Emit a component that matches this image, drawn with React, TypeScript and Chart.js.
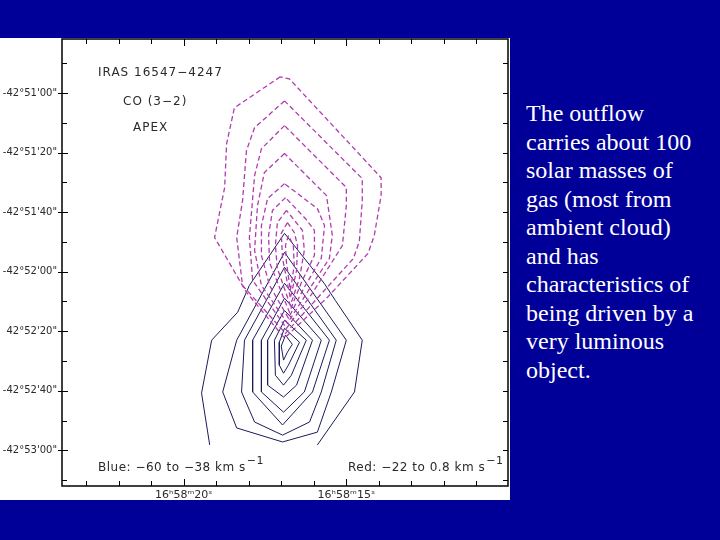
import React, { useEffect, useRef } from "react";
import { Chart, registerables } from "chart.js";

Chart.register(...registerables);

// x: right ascension seconds (16h58m..s), y: declination offset in arcsec from -42°52'20"
const RA_TICKS = [11, 12, 13, 14, 15, 16, 17, 18, 19, 20, 21, 22, 23];
const RA_LABEL_VALUES = [20, 15];
const RA_LABEL_TEXT = ["16ʰ58ᵐ20ˢ", "16ʰ58ᵐ15ˢ"];
const DEC_TICKS = [-50, -40, -30, -20, -10, 0, 10, 20, 30, 40, 50, 60, 70, 80, 90];
const DEC_LABEL_VALUES = [80, 60, 40, 20, 0, -20, -40];
const DEC_LABEL_TEXT = [`-42°51'00"`, `-42°51'20"`, `-42°51'40"`, `-42°52'00"`, `42°52'20"`, `-42°52'40"`, `-42°53'00"`];

const TITLE_LINES = ["IRAS 16547\u22124247", "CO (3\u22122)", "APEX"];
const BLUE_RANGE = "Blue: \u221260 to \u221238 km s";
const RED_RANGE = "Red: \u221222 to 0.8 km s";
const NOTE_LINES = [
  "The outflow",
  "carries about 100",
  "solar masses of",
  "gas (most from",
  "ambient cloud)",
  "and has",
  "characteristics of",
  "being driven by a",
  "very luminous",
  "object.",
];

// Red-shifted lobe contours (dashed magenta), [RA s, dDec arcsec]
const RED_1 = [[17.03, 85.5], [18.44, 75.1], [18.68, 63.0], [18.74, 48.3], [19.05, 31.5], [18.07, 13.1], [16.90, -2.3], [15.58, 11.4], [14.33, 26.2], [14.14, 32.2], [13.93, 45.6], [13.93, 51.6], [16.75, 84.8], [17.03, 85.5]];
const RED_2 = [[16.90, 77.4], [17.82, 68.4], [18.07, 60.7], [18.19, 43.9], [18.37, 31.5], [18.19, 15.4], [16.87, -0.7], [15.89, 11.1], [14.78, 24.5], [14.60, 30.2], [14.51, 43.9], [14.51, 51.3], [16.90, 77.4]];
const RED_3 = [[16.90, 69.1], [17.61, 61.3], [17.82, 52.3], [17.98, 31.5], [17.88, 17.1], [16.84, 1.0], [16.07, 12.4], [15.12, 28.8], [15.00, 42.2], [15.00, 48.3], [16.90, 69.1]];
const RED_4 = [[16.90, 59.7], [17.52, 53.3], [17.73, 42.2], [17.82, 27.2], [17.61, 15.4], [16.81, 2.7], [16.20, 13.1], [15.52, 24.5], [15.43, 32.2], [15.61, 45.6], [16.90, 59.7]];
const RED_5 = [[16.90, 49.6], [17.42, 44.6], [17.61, 35.5], [17.61, 25.5], [17.36, 15.4], [16.78, 4.4], [16.29, 14.8], [15.77, 24.5], [15.67, 35.5], [15.89, 41.2], [16.90, 49.6]];
const RED_6 = [[16.87, 44.9], [17.27, 40.6], [17.39, 32.2], [17.36, 23.1], [16.75, 6.4], [16.38, 16.4], [15.98, 25.5], [15.98, 33.9], [16.26, 37.9], [16.87, 44.9]];
const RED_7 = [[16.84, 40.6], [17.12, 36.5], [17.18, 28.8], [17.12, 21.1], [16.72, 8.7], [16.44, 17.8], [16.29, 27.2], [16.35, 33.9], [16.84, 40.6]];
const RED_8 = [[16.81, 36.5], [17.00, 32.9], [16.96, 24.5], [16.72, 11.1], [16.53, 20.4], [16.50, 28.8], [16.60, 33.2], [16.81, 36.5]];
const RED_9 = [[16.78, 32.2], [16.87, 28.8], [16.84, 23.1], [16.72, 13.7], [16.60, 22.1], [16.63, 28.8], [16.78, 32.2]];

// Blue-shifted lobe contours (solid navy)
const BLUE_1 = [[19.20, -38.2], [19.45, -20.8], [19.14, -3.0], [18.34, 6.4], [17.98, 15.4], [16.90, 32.9], [15.68, 16.1], [15.34, 10.4], [14.51, -3.0], [14.75, -20.4], [15.89, -38.2]];
const BLUE_2 = [[16.90, 26.5], [18.37, -3.0], [18.80, -20.4], [18.37, -32.5], [16.96, -37.2], [15.89, -33.9], [15.46, -20.4], [15.00, -3.0], [16.90, 26.5]];
const BLUE_3 = [[16.90, 21.5], [18.13, -3.0], [18.22, -20.4], [17.82, -30.5], [16.96, -34.9], [16.13, -30.5], [15.77, -20.4], [15.31, -3.0], [16.90, 21.5]];
const BLUE_4 = [[16.90, 16.1], [17.88, -3.0], [17.88, -20.4], [16.96, -31.5], [16.04, -20.4], [15.52, -3.0], [16.90, 16.1]];
const BLUE_5 = [[16.90, 11.1], [17.61, -3.0], [17.61, -20.4], [16.93, -27.2], [16.29, -20.4], [15.77, -3.0], [16.90, 11.1]];
const BLUE_6 = [[16.90, 7.0], [17.42, -3.0], [17.42, -18.1], [16.93, -22.1], [16.53, -18.1], [16.04, -3.0], [16.90, 7.0]];
const BLUE_7 = [[16.90, 3.7], [17.21, -3.0], [17.18, -14.8], [16.93, -18.1], [16.69, -14.8], [16.23, -3.0], [16.90, 3.7]];
const BLUE_8 = [[16.90, 1.0], [17.06, -3.7], [17.06, -11.4], [16.93, -14.1], [16.78, -11.4], [16.44, -3.7], [16.90, 1.0]];
const BLUE_9 = [[16.87, -1.3], [17.00, -5.0], [16.93, -9.7], [16.81, -7.0], [16.66, -4.4], [16.87, -1.3]];

const RED_CONTOURS = [RED_1, RED_2, RED_3, RED_4, RED_5, RED_6, RED_7, RED_8, RED_9];
const BLUE_CONTOURS = [BLUE_1, BLUE_2, BLUE_3, BLUE_4, BLUE_5, BLUE_6, BLUE_7, BLUE_8, BLUE_9];

const RED_COLOR = "#b03cb0";
const BLUE_COLOR = "#1a1a5c";
const TEXT_COLOR = "#2a2a2a";
const AXIS_FONT = "DejaVu Sans";

function contourDataset(points: number[][], color: string, dash: number[], width: number) {
  return {
    data: points.map(([x, y]) => ({ x, y })),
    showLine: true,
    borderColor: color,
    borderWidth: width,
    borderDash: dash,
    pointRadius: 0,
    pointHoverRadius: 0,
    fill: false,
    tension: 0,
  };
}

const framePlugin = {
  id: "frameAndText",
  afterDraw(chart: any) {
    const { ctx, chartArea: a, scales } = chart;
    const xs = scales.x;
    const ys = scales.y;
    ctx.save();
    ctx.strokeStyle = "#000";
    ctx.lineWidth = 1;
    ctx.beginPath();
    for (const v of RA_TICKS) {
      const px = Math.round(xs.getPixelForValue(v)) + 0.5;
      const len = RA_LABEL_VALUES.includes(v) ? 7 : 5;
      ctx.moveTo(px, a.top);
      ctx.lineTo(px, a.top + len);
      ctx.moveTo(px, a.bottom);
      ctx.lineTo(px, a.bottom - len);
    }
    for (const v of DEC_TICKS) {
      const py = Math.round(ys.getPixelForValue(v)) + 0.5;
      const major = DEC_LABEL_VALUES.includes(v);
      ctx.moveTo(a.left - (major ? 4 : 0), py);
      ctx.lineTo(a.left + (major ? 6 : 5), py);
      ctx.moveTo(a.right, py);
      ctx.lineTo(a.right - 5, py);
    }
    ctx.stroke();
    ctx.lineWidth = 1.5;
    ctx.strokeRect(a.left, a.top, a.right - a.left, a.bottom - a.top);

    // annotations
    ctx.fillStyle = TEXT_COLOR;
    ctx.textAlign = "left";
    ctx.textBaseline = "middle";
    ctx.font = `12px "${AXIS_FONT}"`;
    (ctx as any).letterSpacing = "1px";
    ctx.fillText(TITLE_LINES[0], a.left + 36, a.top + 34);
    ctx.fillText(TITLE_LINES[1], a.left + 61, a.top + 63);
    ctx.fillText(TITLE_LINES[2], a.left + 71, a.top + 89);
    (ctx as any).letterSpacing = "0.5px";
    const drawRange = (txt: string, x: number, y: number) => {
      ctx.font = `12px "${AXIS_FONT}"`;
      ctx.fillText(txt, x, y);
      const w = ctx.measureText(txt).width;
      ctx.font = `11px "${AXIS_FONT}"`;
      ctx.fillText("\u22121", x + w + 1, y - 7);
    };
    drawRange(BLUE_RANGE, a.left + 36, a.top + 429);
    drawRange(RED_RANGE, a.left + 286, a.top + 429);
    (ctx as any).letterSpacing = "0px";
    ctx.restore();
  },
};

function SkyChart() {
  const ref = useRef<HTMLCanvasElement | null>(null);
  useEffect(() => {
    if (!ref.current) return;
    const datasets = [
      ...RED_CONTOURS.map((c) => contourDataset(c, RED_COLOR, [5, 3], 1.3)),
      ...BLUE_CONTOURS.map((c) => contourDataset(c, BLUE_COLOR, [], 1)),
    ];
    const chart = new Chart(ref.current, {
      type: "scatter",
      data: { datasets },
      options: {
        animation: false,
        responsive: false,
        devicePixelRatio: 1,
        layout: { padding: { left: 0, right: 2, top: 1, bottom: 0 } },
        plugins: { legend: { display: false }, tooltip: { enabled: false } },
        events: [],
        scales: {
          x: {
            type: "linear",
            position: "bottom",
            reverse: true,
            min: 10.03,
            max: 23.74,
            grid: { display: false, drawTicks: false },
            border: { display: false },
            afterBuildTicks: (scale: any) => {
              scale.ticks = RA_TICKS.map((v) => ({ value: v }));
            },
            afterFit: (scale: any) => {
              scale.height = 14;
              scale.paddingLeft = 0;
              scale.paddingRight = 0;
            },
            ticks: {
              autoSkip: false,
              maxRotation: 0,
              minRotation: 0,
              padding: 3,
              color: TEXT_COLOR,
              font: { family: AXIS_FONT, size: 11 },
              callback: (v: any) => {
                const i = RA_LABEL_VALUES.indexOf(Number(v));
                return i >= 0 ? RA_LABEL_TEXT[i] : "";
              },
            },
          },
          y: {
            type: "linear",
            position: "left",
            min: -52,
            max: 98.2,
            grid: { display: false, drawTicks: false },
            border: { display: false },
            afterBuildTicks: (scale: any) => {
              scale.ticks = DEC_TICKS.map((v) => ({ value: v }));
            },
            afterFit: (scale: any) => {
              scale.width = 62;
              scale.paddingTop = 0;
              scale.paddingBottom = 0;
            },
            ticks: {
              autoSkip: false,
              padding: 5,
              color: TEXT_COLOR,
              font: { family: AXIS_FONT, size: 10 },
              callback: (v: any) => {
                const i = DEC_LABEL_VALUES.indexOf(Number(v));
                return i >= 0 ? DEC_LABEL_TEXT[i] : "";
              },
            },
          },
        },
      },
      plugins: [framePlugin],
    } as any);
    return () => chart.destroy();
  }, []);
  return <canvas ref={ref} width={510} height={462} style={{ width: 510, height: 462, display: "block" }} />;
}

export default function App() {
  return (
    <div style={{ position: "fixed", left: 0, top: 0, width: 720, height: 540, background: "#000099", overflow: "hidden" }}>
      <div style={{ position: "absolute", left: 0, top: 38, width: 510, height: 462, background: "#ffffff", overflow: "hidden" }}>
        <SkyChart />
      </div>
      <div
        style={{
          position: "absolute",
          left: 526,
          top: 99,
          color: "#ffffff",
          fontFamily: '"Liberation Serif", "Times New Roman", serif',
          fontSize: 24,
          lineHeight: "28.5px",
          whiteSpace: "nowrap",
        }}
      >
        {NOTE_LINES.map((l, i) => (
          <div key={i}>{l}</div>
        ))}
      </div>
    </div>
  );
}
